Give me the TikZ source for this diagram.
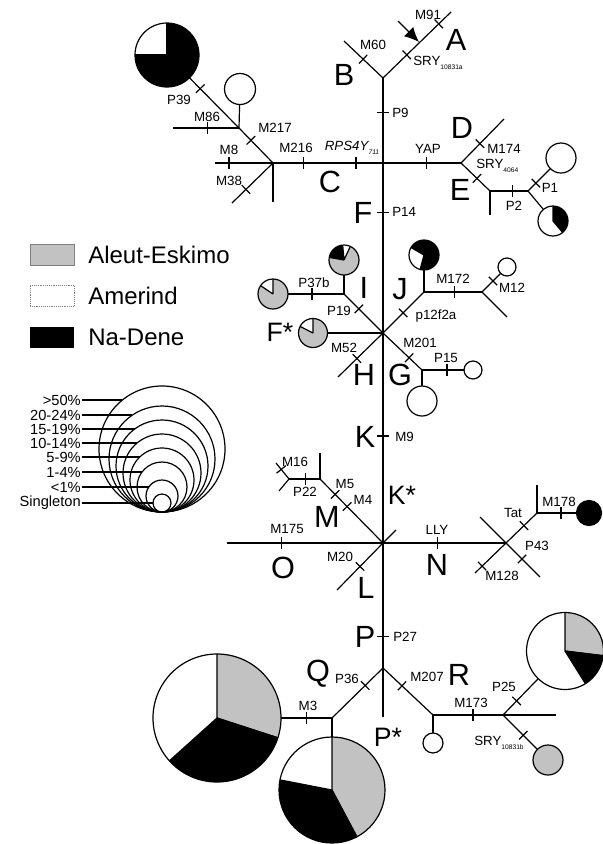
\documentclass[tikz,border=0pt]{standalone}
\usepackage{fontspec}
\setmainfont{Liberation Sans}
\usetikzlibrary{arrows.meta,decorations.markings}
\colorlet{ae}{black!24}
\newcommand\lowtxt[1]{\raisebox{-2.5pt}{\fontsize{5}{6}\selectfont#1}}
\tikzset{
  br/.style={line width=0.9pt},
  mut/.style={postaction={decorate,decoration={markings,
    mark=at position #1 with {\draw[line width=0.9pt] (0,-6) -- (0,6);}}}},
  lbl/.style={font=\fontsize{10}{12}\selectfont,inner sep=0pt},
  hap/.style={font=\fontsize{23}{26}\selectfont,inner sep=0pt},
  hapst/.style={font=\fontsize{20}{24}\selectfont,inner sep=0pt},
  keybox/.style={minimum width=33pt,minimum height=15.75pt,inner sep=0pt},
  leg/.style={font=\fontsize{18}{21}\selectfont,inner sep=0pt,anchor=west},
  pct/.style={font=\fontsize{11}{12}\selectfont,inner sep=0pt,anchor=east}
}
\newcommand\piechart[4]{%
  \fill[#3] (#1) circle (#2);
  \foreach \a/\b/\c in {#4}{
    \fill[\c] (#1) -- ++(\a:#2) arc[start angle=\a,end angle=\b,radius=#2] -- cycle;
    \draw[br] (#1) -- ++(\a:#2) (#1) -- ++(\b:#2);
  }
  \draw[br] (#1) circle (#2);
}

\begin{document}
\begin{tikzpicture}[x=0.75pt,y=0.75pt]
\useasboundingbox (0,0) rectangle (603,-844);

% trunk
\coordinate (top) at (383,-78);
\coordinate (jC) at (383,-163);
\coordinate (jF) at (383,-333);
\coordinate (jK) at (383,-543);
\coordinate (jPQ) at (383,-668);
\coordinate (bot) at (383,-717);
% A, B
\coordinate (aEnd) at (451,-12);
\coordinate (arrS) at (398,-21);
\coordinate (arrE) at (419,-42);
\coordinate (bEnd) at (344,-41);
% C
\coordinate (jC2) at (273,-163);
\coordinate (c8End) at (215,-163);
\coordinate (c38End) at (232,-203);
\coordinate (cStub) at (273,-202);
\coordinate (j86) at (239,-128);
\coordinate (c86End) at (173,-128);
\coordinate (p39) at (167,-55);
\coordinate (c86) at (240,-89);
% D, E
\coordinate (jDE) at (461,-163);
\coordinate (dEnd) at (504,-119);
\coordinate (jE) at (490,-191);
\coordinate (eStub) at (490,-215);
\coordinate (jP1) at (528,-191);
\coordinate (cP1) at (561,-158);
\coordinate (pE) at (553,-221);
% F star
\coordinate (jI) at (344,-294);
\coordinate (pI) at (344,-260);
\coordinate (pI37) at (273,-294);
\coordinate (jJ) at (424,-292);
\coordinate (pJ) at (424,-255);
\coordinate (j12) at (482,-292);
\coordinate (c12) at (507,-267);
\coordinate (j12End) at (507,-317);
\coordinate (jG) at (422,-370);
\coordinate (c15) at (473,-370);
\coordinate (cG) at (422,-401);
\coordinate (hEnd) at (338,-377);
\coordinate (pF) at (313,-333);
% K star
\coordinate (oEnd) at (227,-543);
\coordinate (jM) at (320,-479);
\coordinate (mStub) at (320,-453);
\coordinate (j16) at (289,-479);
\coordinate (m16a) at (276,-463);
\coordinate (m16b) at (279,-491);
\coordinate (lEnd) at (337,-590);
\coordinate (kStub) at (396,-530);
\coordinate (jN) at (506,-543);
\coordinate (jT) at (537,-513);
\coordinate (tStub) at (537,-485);
\coordinate (c178) at (589,-513);
\coordinate (n128) at (475,-573);
\coordinate (nUL) at (480,-517);
\coordinate (n43) at (540,-577);
% Q, R
\coordinate (jQ) at (332,-718);
\coordinate (pQ1) at (217,-718);
\coordinate (pQ2) at (332,-790);
\coordinate (jR) at (433,-715);
\coordinate (cR) at (433,-743);
\coordinate (jS) at (503,-715);
\coordinate (sEnd) at (556,-715);
\coordinate (pR) at (565,-651);
\coordinate (cS) at (548,-760);

% branches
\draw[br,mut=.41] (top) -- (jC);
\draw[br,mut=.29] (jC) -- (jF);
\draw[br,mut=.49] (jF) -- (jK);
\draw[br,mut=.75] (jK) -- (jPQ);
\draw[br] (jPQ) -- (bot);
\draw[br,mut=.35,mut=.82] (top) -- (aEnd);
\draw[br,-{Latex[length=11pt,width=10pt]}] (arrS) -- (arrE);
\draw[br,mut=.51] (top) -- (bEnd);
\draw[br,mut=.245,mut=.72] (jC) -- (jC2);
\draw[br,mut=.76] (jC2) -- (c8End);
\draw[br,mut=.66] (jC2) -- (c38End);
\draw[br] (jC2) -- (cStub);
\draw[br,mut=.65] (jC2) -- (j86);
\draw[br,mut=.54] (j86) -- (p39);
\draw[br,mut=.48] (j86) -- (c86End);
\draw[br] (j86) -- (c86);
\draw[br,mut=.56] (jC) -- (jDE);
\draw[br,mut=.44] (jDE) -- (dEnd);
\draw[br,mut=.55] (jDE) -- (jE);
\draw[br] (jE) -- (eStub);
\draw[br,mut=.6] (jE) -- (jP1);
\draw[br,mut=.24] (jP1) -- (cP1);
\draw[br] (jP1) -- (pE);
\draw[br,mut=.62] (jF) -- (jI);
\draw[br,mut=.45] (jI) -- (pI37);
\draw[br] (jI) -- (pI);
\draw[br,mut=.49] (jF) -- (jJ);
\draw[br] (jJ) -- (pJ);
\draw[br,mut=.53] (jJ) -- (j12);
\draw[br,mut=.44] (j12) -- (c12);
\draw[br] (j12) -- (j12End);
\draw[br,mut=.67] (jF) -- (jG);
\draw[br,mut=.49] (jG) -- (c15);
\draw[br] (jG) -- (cG);
\draw[br,mut=.58] (jF) -- (hEnd);
\draw[br] (jF) -- (pF);
\draw[br,mut=.65] (jK) -- (oEnd);
\draw[br,mut=.57,mut=.76] (jK) -- (jM);
\draw[br] (jM) -- (mStub);
\draw[br,mut=.48] (jM) -- (j16);
\draw[br,mut=.6] (j16) -- (m16a);
\draw[br] (j16) -- (m16b);
\draw[br,mut=.5] (jK) -- (lEnd);
\draw[br] (jK) -- (kStub);
\draw[br,mut=.44] (jK) -- (jN);
\draw[br,mut=.58] (jN) -- (jT);
\draw[br] (jT) -- (tStub);
\draw[br,mut=.46] (jT) -- (c178);
\draw[br,mut=.77] (jN) -- (n128);
\draw[br] (jN) -- (nUL);
\draw[br,mut=.47] (jN) -- (n43);
\draw[br,mut=.35] (jPQ) -- (jQ);
\draw[br,mut=.22] (jQ) -- (pQ1);
\draw[br] (jQ) -- (pQ2);
\draw[br,mut=.38] (jPQ) -- (jR);
\draw[br] (jR) -- (cR);
\draw[br,mut=.57] (jR) -- (jS);
\draw[br] (jS) -- (sEnd);
\draw[br,mut=.22] (jS) -- (pR);
\draw[br,mut=.45] (jS) -- (cS);

% pies and circles
\piechart{p39}{32}{black}{90/180/white}
\piechart{pE}{15}{white}{-50/90/black}
\piechart{pI}{15}{ae}{95/170/black, 65/95/white}
\piechart{pJ}{15}{black}{150/255/white}
\piechart{pI37}{15}{ae}{90/146/white}
\piechart{pF}{14.5}{ae}{90/153/white}
\piechart{pQ1}{64}{white}{-18/90/ae, 222/342/black}
\piechart{pQ2}{53}{white}{-62/90/ae, 169/298/black}
\piechart{pR}{38.5}{white}{-7/90/ae, -58/-7/black}
\draw[br,fill=white] (c86) circle (15.5);
\draw[br,fill=white] (cP1) circle (15);
\draw[br,fill=white] (c12) circle (9);
\draw[br,fill=white] (c15) circle (9);
\draw[br,fill=white] (cG) circle (15);
\draw[br,fill=white] (cR) circle (10);
\draw[br,fill=ae] (cS) circle (15);
\draw[br,fill=black] (c178) circle (12.5);

% mutation labels
\node[lbl] (lM91) at (428,-15) {M91};
\node[lbl,anchor=west] (lSRYa) at (413,-63) {SRY\lowtxt{10831a}};
\node[lbl] (lM60) at (373,-45) {M60};
\node[lbl,anchor=west] (lP9) at (392,-113) {P9};
\node[lbl] (lP39) at (179,-100) {P39};
\node[lbl] (lM86) at (207,-117) {M86};
\node[lbl] (lM217) at (275,-128) {M217};
\node[lbl] (lM8) at (229,-150) {M8};
\node[lbl] (lM38) at (229,-181) {M38};
\node[lbl] (lM216) at (296,-148) {M216};
\node[lbl] (lRPS) at (352,-148) {\itshape RPS4Y\lowtxt{711}};
\node[lbl] (lYAP) at (428,-149) {YAP};
\node[lbl] (lM174) at (504,-149) {M174};
\node[lbl,anchor=west] (lSRYb) at (476,-166) {SRY\lowtxt{4064}};
\node[lbl] (lP2) at (514,-206) {P2};
\node[lbl] (lP1) at (550,-188) {P1};
\node[lbl,anchor=west] (lP14) at (392,-212) {P14};
\node[lbl] (lP37b) at (314,-283) {P37b};
\node[lbl] (lP19) at (339,-311) {P19};
\node[lbl] (lp12) at (436,-316) {p12f2a};
\node[lbl] (lM172) at (453,-279) {M172};
\node[lbl] (lM12) at (512,-288) {M12};
\node[lbl] (lM201) at (420,-343) {M201};
\node[lbl] (lP15) at (446,-358) {P15};
\node[lbl] (lM52) at (344,-348) {M52};
\node[lbl,anchor=west] (lM9) at (395,-437) {M9};
\node[lbl] (lM16) at (295,-462) {M16};
\node[lbl] (lP22) at (305,-492) {P22};
\node[lbl] (lM5) at (345,-484) {M5};
\node[lbl] (lM4) at (363,-500) {M4};
\node[lbl] (lM175) at (287,-529) {M175};
\node[lbl] (lM20) at (340,-557) {M20};
\node[lbl] (lLLY) at (437,-530) {LLY};
\node[lbl] (lTat) at (513,-513) {Tat};
\node[lbl] (lM178) at (559,-502) {M178};
\node[lbl] (lP43) at (537,-546) {P43};
\node[lbl] (lM128) at (502,-576) {M128};
\node[lbl,anchor=west] (lP27) at (393,-637) {P27};
\node[lbl] (lP36) at (347,-679) {P36};
\node[lbl] (lM3) at (308,-706) {M3};
\node[lbl] (lM207) at (427,-677) {M207};
\node[lbl] (lM173) at (471,-703) {M173};
\node[lbl] (lP25) at (504,-687) {P25};
\node[lbl,anchor=west] (lSRYc) at (474,-743) {SRY\lowtxt{10831b}};

% haplogroup letters
\node[hap] (hA) at (456,-40) {A};
\node[hap] (hB) at (344,-75) {B};
\node[hap] (hC) at (330,-182) {C};
\node[hap] (hD) at (462,-128) {D};
\node[hap] (hE) at (460,-190) {E};
\node[hap] (hF) at (363,-213) {F};
\node[hap] (hI) at (364,-288) {I};
\node[hap] (hJ) at (400,-289) {J};
\node[hap] (hH) at (364,-375) {H};
\node[hap] (hG) at (400,-375) {G};
\node[hap] (hK) at (365,-437) {K};
\node[hap] (hM) at (327,-517) {M};
\node[hap] (hO) at (283,-568) {O};
\node[hap] (hL) at (366,-588) {L};
\node[hap] (hN) at (437,-565) {N};
\node[hap] (hP) at (365,-637) {P};
\node[hap] (hQ) at (318,-674) {Q};
\node[hap] (hR) at (459,-675) {R};
\node[hapst] (hFs) at (280,-332) {F*};
\node[hapst] (hKs) at (402,-495) {K*};
\node[hapst] (hPs) at (388,-737) {P*};

% key
\node[keybox,fill=ae,draw=gray] (kAE) at (52,-254.5) {};
\node[keybox,draw=gray,densely dotted] (kAM) at (52,-295.5) {};
\node[keybox,fill=black] (kND) at (52,-337) {};
\node[leg] (tAE) at (88,-255) {Aleut-Eskimo};
\node[leg] (tAM) at (88,-296) {Amerind};
\node[leg] (tND) at (88,-337) {Na-Dene};

% size key
\foreach \r/\y/\t [count=\i] in {63/400/{>50\%},53/415/{20-24\%},46/429/{15-19\%},
    39/443/{10-14\%},32/457/{5-9\%},25/472/{1-4\%},16/487/{<1\%},9/503/{Singleton}}{
  \draw[br] (162,{-512+\r}) circle (\r);
  \node[pct] (s\i) at (81,-\y) {\t};
  \pgfmathsetmacro\xoff{sqrt(\r*\r-(\y-512+\r)^2)}
  \draw[br] ([xshift=1pt]s\i.east) -- ({162-\xoff},-\y);
}
\end{tikzpicture}
\end{document}
